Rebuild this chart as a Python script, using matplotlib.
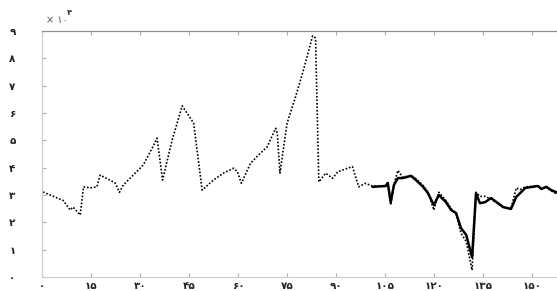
import numpy as np
import matplotlib as mpl
mpl.use('Agg')
import matplotlib.pyplot as plt
from matplotlib.ticker import FuncFormatter, MultipleLocator

plt.rcParams['font.family'] = ['DejaVu Sans']

# observed series (values in units of 10^4)
actual_x = [0.3, 2.5, 6.5, 8.6, 9.5, 11.7, 12.7, 14.7, 16.8, 17.8, 19.9, 22.4, 23.7,
			24.9, 28, 31, 34.2, 35.2, 36.9, 39.8, 42.9, 46.4, 49, 52.5, 55.5, 58.6,
			59.8, 61, 63.8, 66.2, 68.9, 71.5, 72, 72.8, 75, 77.6, 80, 82.8, 83.7,
			84.7, 86.8, 88.9, 90.5, 95, 96.9, 99, 101, 103.6, 105.2, 105.8, 106.7,
			107.7, 108.9, 110.4, 112.9, 114.4, 116.6, 118.1, 119.9, 121.4, 123.6,
			125.2, 126.7, 128.2, 129.8, 131.6, 132.8, 134, 135.6, 137.4, 141.1,
			143.5, 145.1, 146.3, 147.9, 151.8, 152.8, 154.3, 155.8, 158]
actual_y = [3.11, 3.0, 2.8, 2.45, 2.56, 2.27, 3.3, 3.26, 3.3, 3.73, 3.6, 3.44, 3.1,
			3.37, 3.74, 4.1, 4.83, 5.08, 3.55, 5.0, 6.26, 5.63, 3.18, 3.55, 3.8, 3.98,
			3.85, 3.43, 4.16, 4.46, 4.76, 5.44, 5.26, 3.8, 5.63, 6.6, 7.57, 8.82, 8.74,
			3.48, 3.8, 3.61, 3.85, 4.04, 3.3, 3.43, 3.33, 3.33, 3.35, 3.45, 2.63,
			3.4, 3.9, 3.65, 3.72, 3.6, 3.35, 3.1, 2.45, 3.1, 2.8,
			2.5, 2.3, 1.6, 1.3, 0.25, 3.1, 2.95, 2.95, 2.85, 2.55,
			2.5, 3.26, 3.2, 3.3, 3.33, 3.22, 3.3, 3.15, 3.0]

# forecast series
pred_x = [101.2, 105.2, 105.8, 106.7, 107.7, 108.9, 110.4, 112.9, 114.4, 116.6,
		  118.1, 119.9, 121.4, 123.6, 125.2, 126.7, 128.2, 129.8, 131.6, 132.8,
		  134, 135.6, 137.4, 141.1, 143.5, 145.1, 146.3, 147.9, 151.8, 152.8,
		  154.3, 155.8, 158]
pred_y = [3.3, 3.33, 3.44, 2.74, 3.37, 3.62, 3.62, 3.7, 3.55, 3.3,
		  3.07, 2.63, 3.0, 2.74, 2.45, 2.34, 1.79, 1.54, 0.73, 3.07,
		  2.7, 2.74, 2.89, 2.56, 2.49, 2.93, 3.07, 3.26, 3.33, 3.22,
		  3.3, 3.18, 3.07]

x_ticks = [0, 15, 30, 45, 60, 75, 90, 105, 120, 135, 150]
y_ticks = list(range(0, 10))

fa = str.maketrans('0123456789', '۰۱۲۳۴۵۶۷۸۹')
def persian(v, pos=None):
	return str(int(round(v))).translate(fa)

fig = plt.figure(figsize=(5.57, 2.91), dpi=100)
ax = fig.add_axes([0.0754, 0.048, 0.93, 0.8455])

ax.plot(actual_x, actual_y, color='black', lw=1.2, ls=(0, (1, 1.1)))
ax.plot(pred_x, pred_y, color='black', lw=1.8, ls='-')

ax.set_xlim(0, 158.5)
ax.set_ylim(0, 9)
ax.set_xticks(x_ticks)
ax.set_yticks(y_ticks)
ax.xaxis.set_major_formatter(FuncFormatter(persian))
ax.yaxis.set_major_formatter(FuncFormatter(persian))

ax.tick_params(axis='both', direction='in', length=3, width=0.8, color='#b0b0b0',
	labelsize=7.5, labelcolor='#222222')
ax.tick_params(axis='x', top=True, pad=3)
ax.tick_params(axis='y', left=True, right=False, pad=19)
for lbl in ax.get_xticklabels() + ax.get_yticklabels():
	lbl.set_fontweight('bold')

for s in ['left', 'bottom']:
	ax.spines[s].set_color('#d0d0d0')
	ax.spines[s].set_linewidth(0.9)
ax.spines['top'].set_color('#909090')
ax.spines['top'].set_linewidth(0.9)
ax.spines['right'].set_visible(False)

fig.text(0.083, 0.915, '× ' + '10'.translate(fa), fontsize=7, color='#555555',
	ha='left', va='bottom')
fig.text(0.12, 0.94, '4'.translate(fa), fontsize=6, color='#333333',
	fontweight='bold', ha='left', va='bottom')

fig.savefig('out.png', dpi=100)
